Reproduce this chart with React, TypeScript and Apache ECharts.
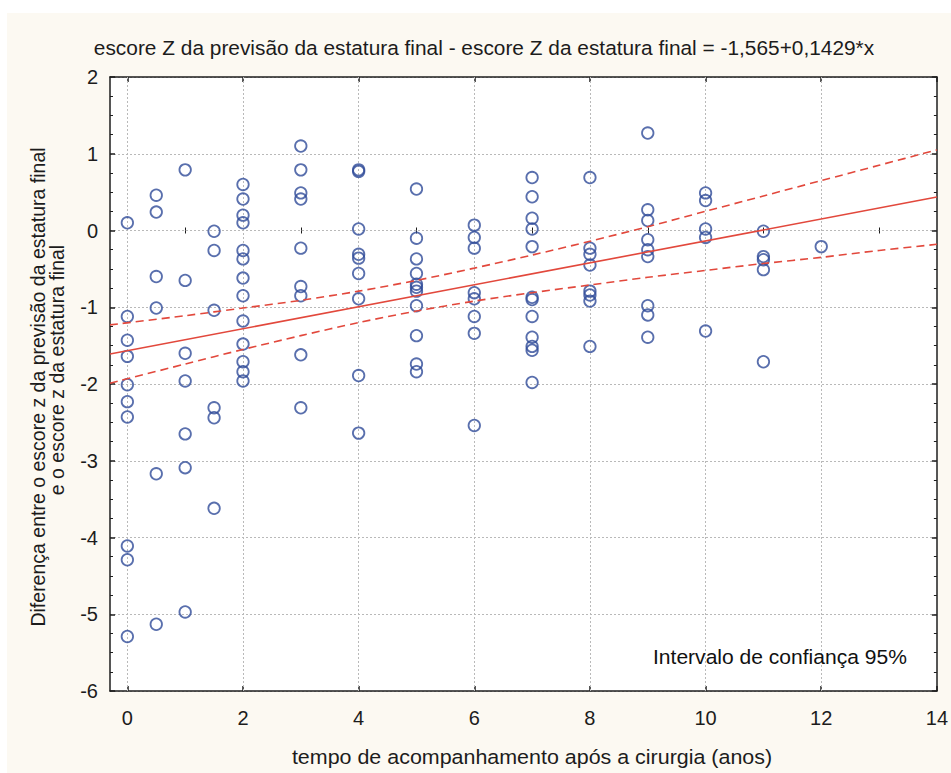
import React, { useEffect, useRef } from 'react';
import * as echarts from 'echarts';

// Follow-up time (years) of each column of observations
const columnX = [0, 0.5, 1, 1.5, 2, 3, 4, 5, 6, 7, 8, 9, 10, 11, 12];
// Difference of z-scores observed in each column
const columnValues = [
  [0.10, -1.12, -1.43, -1.64, -2.01, -2.23, -2.43, -4.11, -4.29, -5.29],
  [0.46, 0.24, -0.60, -1.01, -3.17, -5.13],
  [0.79, -0.65, -1.60, -1.96, -2.65, -3.09, -4.97],
  [-0.01, -0.26, -1.04, -2.31, -2.44, -3.62],
  [0.60, 0.41, 0.20, 0.10, -0.26, -0.37, -0.62, -0.85, -1.18, -1.48, -1.71, -1.84, -1.96],
  [1.10, 0.79, 0.49, 0.41, -0.23, -0.73, -0.85, -1.62, -2.31],
  [0.79, 0.77, 0.02, -0.31, -0.36, -0.56, -0.89, -1.89, -2.64],
  [0.54, -0.10, -0.37, -0.56, -0.70, -0.74, -0.79, -0.98, -1.37, -1.74, -1.84],
  [0.07, -0.09, -0.23, -0.81, -0.89, -1.12, -1.34, -2.54],
  [0.69, 0.44, 0.16, 0.02, -0.21, -0.87, -0.90, -1.12, -1.39, -1.51, -1.56, -1.98],
  [0.69, -0.23, -0.31, -0.45, -0.79, -0.84, -0.92, -1.51],
  [1.27, 0.27, 0.13, -0.12, -0.25, -0.34, -0.98, -1.10, -1.39],
  [0.49, 0.39, 0.02, -0.09, -1.31],
  [-0.01, -0.34, -0.38, -0.51, -1.71],
  [-0.21],
];

// Regression line end points
const fitX = [-0.3, 14];
const fitY = [-1.608, 0.436];

// 95% confidence band
const ciX = [-0.3, 1, 2, 3, 4, 5, 6, 7, 8, 9, 10, 11, 12, 13, 14];
const ciUpper = [-1.23, -1.11, -1.01, -0.91, -0.79, -0.65, -0.49, -0.32, -0.14, 0.05, 0.25, 0.45, 0.65, 0.85, 1.05];
const ciLower = [-1.99, -1.74, -1.55, -1.37, -1.20, -1.05, -0.92, -0.81, -0.71, -0.61, -0.52, -0.43, -0.35, -0.26, -0.18];

// Axis ticks
const xMajorTicks = [0, 2, 4, 6, 8, 10, 12, 14];
const xMinorTicks = [1, 3, 5, 7, 9, 11, 13];
const xGridLines = [0, 2, 4, 6, 8, 10, 12];

const titleText = 'escore Z da previsão da estatura final - escore Z da estatura final = -1,565+0,1429*x';
const yNameLine1 = 'Diferença entre o escore z da previsão da estatura final';
const yNameLine2 = 'e o escore z da estatura final';
const xName = 'tempo de acompanhamento após a cirurgia (anos)';
const noteText = 'Intervalo de confiança 95%';

const FONT = '"Liberation Sans", Arial, sans-serif';
const AXIS_COLOR = '#1e1e1e';
const RED = '#e2483c';
const BLUE = '#2f4b98';
const TEXT_COLOR = '#1c1c1c';

export default function App() {
  const ref = useRef<HTMLDivElement>(null);

  useEffect(() => {
    if (!ref.current) return;
    const chart = echarts.init(ref.current, undefined, { renderer: 'svg' });

    const points: number[][] = [];
    columnX.forEach((x, i) => columnValues[i].forEach((y) => points.push([x, y])));

    const baseX = {
      type: 'value' as const,
      min: -0.3,
      max: 14,
      splitLine: { show: false },
      axisLabel: { show: false },
    };
    const lineStyleAxis = { color: AXIS_COLOR, width: 1.5 };

    const option: any = {
      animation: false,
      backgroundColor: 'transparent',
      grid: {
        left: 110,
        right: 8,
        top: 77,
        bottom: 82,
        show: true,
        backgroundColor: '#ffffff',
        borderWidth: 0,
      },
      xAxis: [
        {
          ...baseX,
          position: 'bottom',
          axisLine: { show: true, onZero: false, lineStyle: lineStyleAxis },
          axisTick: { show: true, inside: true, length: 5, customValues: xMajorTicks, lineStyle: lineStyleAxis },
          axisLabel: {
            show: true,
            customValues: xMajorTicks,
            fontSize: 20,
            fontFamily: FONT,
            color: TEXT_COLOR,
            margin: 17,
          },
        },
        {
          ...baseX,
          position: 'bottom',
          axisLine: { show: false },
          axisTick: { show: true, inside: true, length: 3, customValues: xMinorTicks, lineStyle: { color: AXIS_COLOR, width: 1 } },
        },
        {
          ...baseX,
          position: 'top',
          axisLine: { show: true, onZero: false, lineStyle: lineStyleAxis },
          axisTick: { show: true, inside: true, length: 5, customValues: xMajorTicks, lineStyle: lineStyleAxis },
        },
        {
          ...baseX,
          position: 'top',
          axisLine: { show: false },
          axisTick: { show: true, inside: true, length: 3, customValues: xMinorTicks, lineStyle: { color: AXIS_COLOR, width: 1 } },
        },
      ],
      yAxis: [
        {
          type: 'value',
          min: -6,
          max: 2,
          interval: 1,
          position: 'left',
          axisLine: { show: true, onZero: false, lineStyle: lineStyleAxis },
          axisTick: { show: true, inside: true, length: 5, lineStyle: lineStyleAxis },
          minorTick: { show: true, splitNumber: 4, length: 3, lineStyle: { color: AXIS_COLOR, width: 1 } },
          axisLabel: { fontSize: 20, fontFamily: FONT, color: TEXT_COLOR, margin: 12 },
          splitLine: { show: true, lineStyle: { color: '#b9b9b9', type: [2, 2], width: 1 } },
        },
        {
          type: 'value',
          min: -6,
          max: 2,
          interval: 1,
          position: 'right',
          axisLine: { show: true, onZero: false, lineStyle: lineStyleAxis },
          axisTick: { show: true, inside: true, length: 5, lineStyle: lineStyleAxis },
          minorTick: { show: true, splitNumber: 4, length: 3, lineStyle: { color: AXIS_COLOR, width: 1 } },
          axisLabel: { show: false },
          splitLine: { show: false },
        },
      ],
      series: [
        {
          type: 'scatter',
          xAxisIndex: 0,
          yAxisIndex: 0,
          data: points,
          symbol: 'circle',
          symbolSize: 11.5,
          itemStyle: { color: 'rgba(0,0,0,0)', borderColor: BLUE, borderWidth: 1.8 },
          markLine: {
            silent: true,
            symbol: ['none', 'none'],
            label: { show: false },
            lineStyle: { color: '#b9b9b9', type: [2, 2], width: 1 },
            data: xGridLines.map((v) => ({ xAxis: v })),
            z: 1,
          },
          z: 3,
        },
        {
          type: 'line',
          xAxisIndex: 0,
          yAxisIndex: 0,
          data: fitX.map((x, i) => [x, fitY[i]]),
          showSymbol: false,
          symbol: 'none',
          lineStyle: { color: RED, width: 1.6 },
          z: 4,
        },
        {
          type: 'line',
          xAxisIndex: 0,
          yAxisIndex: 0,
          data: ciX.map((x, i) => [x, ciUpper[i]]),
          smooth: 0.3,
          symbol: 'none',
          lineStyle: { color: RED, width: 1.6, type: [8, 5] },
          z: 4,
        },
        {
          type: 'line',
          xAxisIndex: 0,
          yAxisIndex: 0,
          data: ciX.map((x, i) => [x, ciLower[i]]),
          smooth: 0.3,
          symbol: 'none',
          lineStyle: { color: RED, width: 1.6, type: [8, 5] },
          z: 4,
        },
      ],
      graphic: [
        {
          type: 'text',
          x: 484,
          y: 48,
          scaleX: 1.07,
          style: { text: titleText, font: `19.5px ${FONT}`, fill: TEXT_COLOR, textAlign: 'center', textVerticalAlign: 'middle' },
        },
        {
          type: 'text',
          x: 532,
          y: 757,
          scaleX: 1.1,
          style: { text: xName, font: `19.5px ${FONT}`, fill: TEXT_COLOR, textAlign: 'center', textVerticalAlign: 'middle' },
        },
        {
          type: 'text',
          x: 38,
          y: 387,
          rotation: Math.PI / 2,
          style: { text: yNameLine1, font: `19.5px ${FONT}`, fill: TEXT_COLOR, textAlign: 'center', textVerticalAlign: 'middle' },
        },
        {
          type: 'text',
          x: 57,
          y: 370,
          rotation: Math.PI / 2,
          style: { text: yNameLine2, font: `19.5px ${FONT}`, fill: TEXT_COLOR, textAlign: 'center', textVerticalAlign: 'middle' },
        },
        {
          type: 'text',
          x: 653,
          y: 657,
          scaleX: 1.08,
          style: { text: noteText, font: `19.5px ${FONT}`, fill: '#111', textAlign: 'left', textVerticalAlign: 'middle' },
          z: 10,
        },
      ],
    };

    chart.setOption(option);
    return () => chart.dispose();
  }, []);

  return (
    <div style={{ position: 'fixed', left: 0, top: 0, width: 951, height: 773, background: '#ffffff', overflow: 'hidden' }}>
      <div style={{ position: 'absolute', left: 7, top: 13, right: 0, bottom: 0, background: '#fcf9f2' }} />
      <div ref={ref} style={{ position: 'absolute', left: 0, top: 0, width: 951, height: 773 }} />
    </div>
  );
}
